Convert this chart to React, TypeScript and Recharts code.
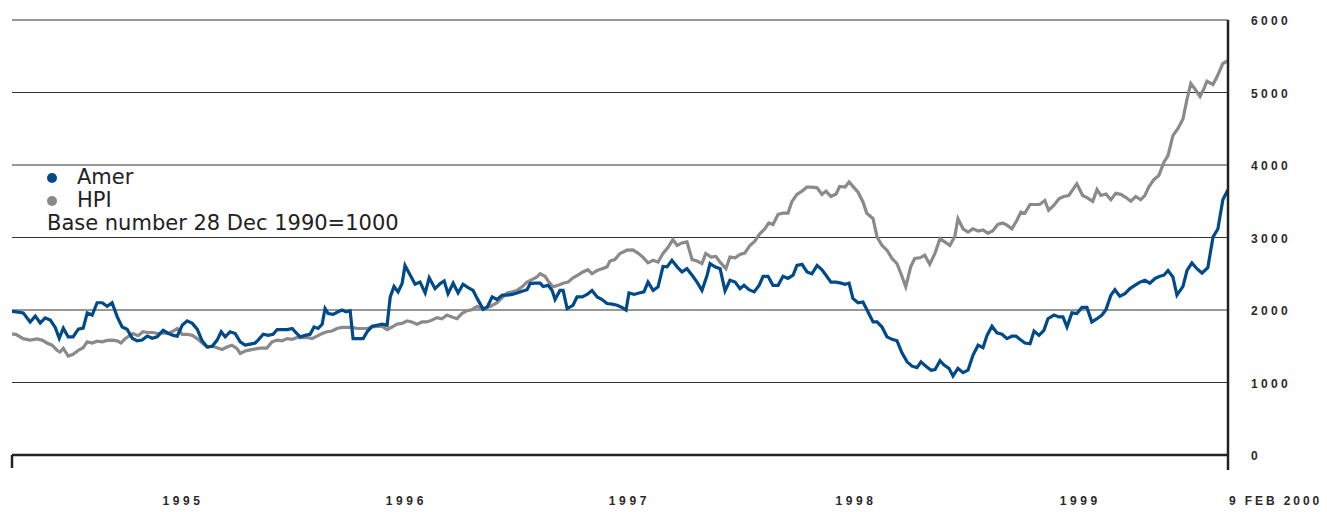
import React from 'react';
import { LineChart, Line, XAxis, YAxis, CartesianGrid } from 'recharts';

const amerSeries: [number, number][] = [
  [1994.679,1980],[1994.698,1975],[1994.729,1960],[1994.760,1835],[1994.783,1915],[1994.805,1820],[1994.827,1890],[1994.850,1860],[1994.872,1760],[1994.890,1610],[1994.908,1750],[1994.930,1630],[1994.952,1630],[1994.975,1735],[1994.997,1750],
  [1995.015,1960],[1995.037,1930],[1995.059,2100],[1995.082,2100],[1995.104,2050],[1995.126,2100],[1995.149,1905],[1995.171,1765],[1995.193,1735],[1995.216,1610],[1995.238,1575],[1995.260,1585],[1995.283,1640],[1995.305,1610],[1995.327,1630],[1995.354,1720],[1995.376,1680],[1995.399,1650],[1995.417,1640],[1995.439,1790],[1995.461,1850],[1995.484,1815],[1995.506,1735],[1995.528,1575],[1995.551,1490],[1995.573,1500],[1995.595,1585],[1995.613,1700],[1995.631,1630],[1995.653,1700],[1995.676,1675],[1995.698,1560],[1995.720,1515],[1995.743,1530],[1995.765,1545],[1995.778,1585],[1995.801,1665],[1995.823,1650],[1995.845,1665],[1995.863,1730],[1995.885,1730],[1995.908,1730],[1995.930,1745],[1995.948,1685],[1995.966,1630],[1995.988,1650],
  [1996.010,1665],[1996.028,1765],[1996.046,1745],[1996.064,1805],[1996.077,2020],[1996.091,1950],[1996.113,1940],[1996.135,1975],[1996.153,2000],[1996.171,1975],[1996.189,1990],[1996.202,1605],[1996.225,1605],[1996.247,1605],[1996.265,1700],[1996.287,1775],[1996.309,1790],[1996.332,1805],[1996.354,1790],[1996.368,2180],[1996.385,2325],[1996.403,2250],[1996.421,2365],[1996.434,2615],[1996.452,2510],[1996.479,2355],[1996.501,2385],[1996.524,2235],[1996.542,2445],[1996.568,2295],[1996.591,2365],[1996.609,2400],[1996.626,2225],[1996.649,2370],[1996.671,2235],[1996.693,2355],[1996.716,2310],[1996.738,2270],[1996.756,2160],[1996.783,2010],[1996.801,2040],[1996.823,2180],[1996.845,2145],[1996.868,2205],[1996.890,2205],[1996.912,2215],[1996.934,2235],[1996.957,2260],[1996.979,2280],[1996.993,2365],
  [1997.015,2370],[1997.037,2370],[1997.051,2325],[1997.073,2340],[1997.091,2270],[1997.104,2145],[1997.126,2270],[1997.140,2270],[1997.158,2020],[1997.184,2065],[1997.202,2180],[1997.225,2180],[1997.247,2215],[1997.269,2270],[1997.292,2180],[1997.314,2145],[1997.336,2090],[1997.359,2080],[1997.381,2065],[1997.403,2035],[1997.421,2000],[1997.434,2235],[1997.457,2215],[1997.479,2235],[1997.501,2250],[1997.519,2385],[1997.542,2270],[1997.564,2320],[1997.586,2600],[1997.604,2595],[1997.626,2685],[1997.649,2595],[1997.671,2525],[1997.693,2570],[1997.716,2480],[1997.738,2385],[1997.760,2270],[1997.783,2480],[1997.796,2640],[1997.818,2595],[1997.841,2570],[1997.863,2265],[1997.885,2410],[1997.908,2385],[1997.930,2295],[1997.948,2340],[1997.970,2280],[1997.993,2250],
  [1998.015,2340],[1998.033,2465],[1998.055,2465],[1998.077,2340],[1998.100,2340],[1998.122,2465],[1998.144,2435],[1998.167,2480],[1998.184,2615],[1998.207,2630],[1998.229,2525],[1998.251,2500],[1998.274,2615],[1998.296,2555],[1998.314,2480],[1998.336,2385],[1998.359,2385],[1998.381,2370],[1998.399,2355],[1998.417,2370],[1998.434,2160],[1998.457,2100],[1998.479,2110],[1998.501,1975],[1998.524,1835],[1998.542,1835],[1998.564,1765],[1998.586,1630],[1998.609,1595],[1998.631,1575],[1998.653,1410],[1998.676,1285],[1998.698,1225],[1998.720,1205],[1998.738,1285],[1998.760,1225],[1998.783,1170],[1998.801,1180],[1998.823,1300],[1998.841,1240],[1998.863,1195],[1998.881,1090],[1998.903,1195],[1998.926,1135],[1998.948,1170],[1998.970,1375],[1998.993,1515],
  [1999.015,1480],[1999.033,1650],[1999.055,1775],[1999.077,1685],[1999.100,1665],[1999.122,1605],[1999.144,1640],[1999.162,1640],[1999.184,1585],[1999.202,1545],[1999.225,1535],[1999.243,1710],[1999.265,1650],[1999.287,1720],[1999.305,1880],[1999.332,1930],[1999.354,1905],[1999.372,1905],[1999.390,1765],[1999.412,1960],[1999.434,1950],[1999.457,2035],[1999.479,2035],[1999.501,1835],[1999.524,1880],[1999.546,1930],[1999.564,2005],[1999.586,2205],[1999.604,2280],[1999.626,2190],[1999.649,2225],[1999.671,2295],[1999.693,2340],[1999.716,2385],[1999.738,2410],[1999.760,2370],[1999.783,2435],[1999.805,2465],[1999.823,2480],[1999.841,2545],[1999.863,2455],[1999.881,2205],[1999.908,2325],[1999.926,2545],[1999.948,2650],[1999.970,2570],[1999.993,2510],
  [2000.019,2585],[2000.042,3005],[2000.064,3120],[2000.086,3520],[2000.109,3660],
];

const hpiSeries: [number, number][] = [
  [1994.679,1670],[1994.698,1660],[1994.729,1605],[1994.760,1585],[1994.791,1600],[1994.813,1585],[1994.835,1545],[1994.858,1515],[1994.880,1445],[1994.893,1420],[1994.908,1470],[1994.930,1365],[1994.952,1390],[1994.975,1445],[1994.997,1480],
  [1995.015,1560],[1995.037,1545],[1995.059,1570],[1995.082,1560],[1995.104,1580],[1995.126,1585],[1995.149,1575],[1995.166,1545],[1995.184,1605],[1995.206,1650],[1995.219,1675],[1995.242,1645],[1995.264,1700],[1995.286,1690],[1995.308,1690],[1995.331,1675],[1995.354,1685],[1995.376,1675],[1995.399,1710],[1995.417,1745],[1995.439,1665],[1995.461,1665],[1995.484,1650],[1995.506,1605],[1995.528,1545],[1995.551,1490],[1995.573,1500],[1995.595,1480],[1995.617,1455],[1995.639,1490],[1995.661,1515],[1995.683,1470],[1995.698,1400],[1995.720,1435],[1995.743,1450],[1995.786,1475],[1995.817,1475],[1995.840,1560],[1995.863,1585],[1995.885,1575],[1995.908,1605],[1995.930,1595],[1995.951,1620],[1995.974,1620],[1995.996,1620],
  [1996.019,1605],[1996.041,1640],[1996.064,1675],[1996.086,1700],[1996.108,1710],[1996.130,1745],[1996.153,1760],[1996.175,1760],[1996.197,1760],[1996.220,1745],[1996.242,1745],[1996.265,1745],[1996.287,1765],[1996.309,1775],[1996.332,1775],[1996.354,1730],[1996.376,1765],[1996.398,1805],[1996.421,1815],[1996.443,1850],[1996.465,1835],[1996.488,1805],[1996.510,1835],[1996.532,1835],[1996.554,1860],[1996.577,1895],[1996.599,1880],[1996.621,1930],[1996.644,1905],[1996.666,1880],[1996.688,1950],[1996.711,1990],[1996.733,2005],[1996.756,2050],[1996.778,2010],[1996.801,2040],[1996.814,2050],[1996.845,2100],[1996.868,2170],[1996.890,2235],[1996.912,2250],[1996.934,2270],[1996.957,2320],[1996.979,2385],
  [1997.001,2420],[1997.023,2455],[1997.037,2500],[1997.059,2465],[1997.073,2400],[1997.095,2320],[1997.117,2340],[1997.140,2370],[1997.162,2385],[1997.184,2445],[1997.206,2480],[1997.228,2525],[1997.251,2555],[1997.269,2500],[1997.292,2545],[1997.314,2570],[1997.336,2595],[1997.349,2675],[1997.371,2695],[1997.394,2780],[1997.425,2825],[1997.452,2830],[1997.474,2785],[1997.496,2730],[1997.519,2650],[1997.542,2685],[1997.564,2660],[1997.586,2780],[1997.608,2860],[1997.630,2970],[1997.649,2890],[1997.671,2925],[1997.693,2940],[1997.716,2695],[1997.738,2675],[1997.760,2640],[1997.777,2780],[1997.800,2730],[1997.822,2740],[1997.841,2660],[1997.867,2570],[1997.885,2730],[1997.908,2720],[1997.930,2765],[1997.951,2785],[1997.974,2890],[1997.996,2950],
  [1998.018,3050],[1998.041,3120],[1998.058,3200],[1998.077,3180],[1998.100,3320],[1998.122,3335],[1998.144,3335],[1998.161,3490],[1998.184,3595],[1998.207,3640],[1998.229,3695],[1998.251,3695],[1998.274,3685],[1998.296,3595],[1998.314,3640],[1998.336,3565],[1998.359,3600],[1998.375,3705],[1998.399,3695],[1998.417,3765],[1998.434,3705],[1998.457,3625],[1998.479,3490],[1998.496,3335],[1998.524,3260],[1998.542,3005],[1998.564,2890],[1998.586,2825],[1998.609,2710],[1998.631,2640],[1998.653,2465],[1998.670,2320],[1998.692,2595],[1998.710,2710],[1998.733,2720],[1998.755,2755],[1998.777,2630],[1998.801,2785],[1998.823,2985],[1998.844,2940],[1998.867,2890],[1998.889,3015],[1998.903,3260],[1998.926,3120],[1998.948,3075],[1998.970,3120],[1998.993,3090],
  [1999.015,3105],[1999.036,3060],[1999.058,3090],[1999.081,3180],[1999.103,3200],[1999.122,3170],[1999.144,3120],[1999.166,3235],[1999.184,3350],[1999.202,3335],[1999.225,3455],[1999.246,3455],[1999.268,3455],[1999.291,3510],[1999.308,3375],[1999.332,3445],[1999.354,3535],[1999.375,3565],[1999.398,3580],[1999.416,3660],[1999.434,3740],[1999.460,3580],[1999.479,3550],[1999.505,3500],[1999.524,3660],[1999.541,3580],[1999.564,3600],[1999.586,3520],[1999.608,3610],[1999.630,3595],[1999.652,3555],[1999.675,3500],[1999.697,3565],[1999.719,3520],[1999.738,3580],[1999.755,3695],[1999.777,3795],[1999.800,3855],[1999.823,4040],[1999.841,4130],[1999.863,4405],[1999.885,4500],[1999.908,4635],[1999.926,4910],[1999.943,5125],[1999.961,5050],[1999.984,4945],
  [2000.001,5050],[2000.015,5155],[2000.042,5110],[2000.059,5210],[2000.086,5400],[2000.109,5440],
];

const yTicks = [0, 1000, 2000, 3000, 4000, 5000, 6000];
const xDomain: [number, number] = [1994.679, 2000.109];
const xTicks = [1994.679, 1995.435, 1996.432, 1997.428, 1998.44, 1999.441, 2000.109];
const xTickLabels = ['', '1995', '1996', '1997', '1998', '1999', '9 FEB 2000'];
const seriesNames = ['Amer', 'HPI'];
const noteText = 'Base number 28 Dec 1990=1000';

const AMER_COLOR = '#004a8a';
const HPI_COLOR = '#8a8a8c';
const AXIS_COLOR = '#222222';

const amerData = amerSeries.map(([t, v]) => ({ t, v }));
const hpiData = hpiSeries.map(([t, v]) => ({ t, v }));

const X_TICK_MARGIN = 41;
const X_LS = 3.6;

function XTick(props: any) {
  const { x, y, payload } = props;
  let i = 0;
  let best = Infinity;
  xTicks.forEach((v, k) => {
    const d = Math.abs(v - payload.value);
    if (d < best) { best = d; i = k; }
  });
  const label = xTickLabels[i];
  const axisY = y - X_TICK_MARGIN;
  const textStyle = {
    fontFamily: 'Liberation Sans',
    fontWeight: 'bold' as const,
    fontSize: 12,
    letterSpacing: X_LS,
    fill: '#2a2a2a',
  };
  if (i === 0) {
    return <line x1={x} x2={x} y1={axisY} y2={axisY + 13} stroke={AXIS_COLOR} strokeWidth={2.5} />;
  }
  if (i === xTicks.length - 1) {
    return (
      <g>
        <line x1={x} x2={x} y1={axisY} y2={axisY + 15} stroke={AXIS_COLOR} strokeWidth={2.5} />
        <text x={x + 1} y={y} dy="0.71em" textAnchor="start" style={{ ...textStyle, letterSpacing: 2.9 }}>{label}</text>
      </g>
    );
  }
  return <text x={x + X_LS / 2} y={y} dy="0.71em" textAnchor="middle" style={textStyle}>{label}</text>;
}

function YTick(props: any) {
  const { x, y, payload } = props;
  return (
    <text
      x={x}
      y={y}
      dy="0.45em"
      textAnchor="start"
      style={{ fontFamily: 'Liberation Sans', fontWeight: 'bold', fontSize: 12, letterSpacing: 3.3, fill: '#2a2a2a' }}
    >
      {payload.value}
    </text>
  );
}

function LegendBlock() {
  const rowStyle: React.CSSProperties = { display: 'flex', alignItems: 'center', height: 23, whiteSpace: 'nowrap' };
  const dot = (c: string): React.CSSProperties => ({ width: 10, height: 10, borderRadius: '50%', background: c, marginRight: 20, marginLeft: -1, flex: 'none' });
  return (
    <div
      style={{
        position: 'absolute',
        left: 40,
        top: 158,
        fontFamily: 'DejaVu Sans',
        fontSize: 21,
        lineHeight: '23px',
        color: '#222',
      }}
    >
      <div style={rowStyle}><span style={dot(AMER_COLOR)} />{seriesNames[0]}</div>
      <div style={rowStyle}><span style={dot(HPI_COLOR)} />{seriesNames[1]}</div>
      <div style={{ ...rowStyle, marginLeft: -1 }}>{noteText}</div>
    </div>
  );
}

export default function App() {
  return (
    <div style={{ position: 'relative', width: 1319, height: 504 }}>
      <LineChart width={1319} height={504} margin={{ top: 12, right: 0, bottom: 0, left: 4 }}>
        <CartesianGrid vertical={false} stroke="#333333" strokeWidth={1.1} />
        <XAxis
          type="number"
          dataKey="t"
          domain={xDomain}
          ticks={xTicks}
          interval={0}
          height={57}
          tickSize={0}
          tickMargin={X_TICK_MARGIN}
          tickLine={false}
          axisLine={{ stroke: AXIS_COLOR, strokeWidth: 2.5 }}
          tick={(p: any) => <XTick {...p} />}
          allowDataOverflow
        />
        <YAxis
          orientation="right"
          domain={[0, 6000]}
          ticks={yTicks}
          interval={0}
          width={99}
          tickSize={0}
          tickMargin={23}
          tickLine={false}
          axisLine={{ stroke: AXIS_COLOR, strokeWidth: 2.5 }}
          tick={(p: any) => <YTick {...p} />}
        />
        <Line data={hpiData} dataKey="v" name={seriesNames[1]} stroke={HPI_COLOR} strokeWidth={3.2} dot={false} activeDot={false} isAnimationActive={false} strokeLinejoin="miter" />
        <Line data={amerData} dataKey="v" name={seriesNames[0]} stroke={AMER_COLOR} strokeWidth={3.2} dot={false} activeDot={false} isAnimationActive={false} strokeLinejoin="miter" />
      </LineChart>
      <LegendBlock />
    </div>
  );
}
